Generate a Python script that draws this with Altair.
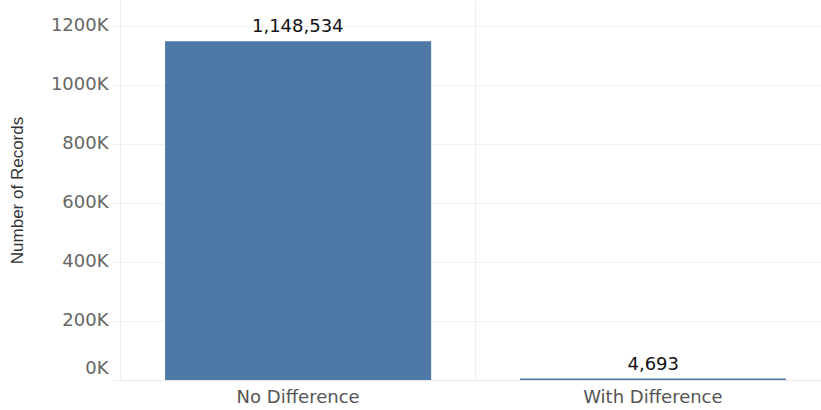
import altair as alt
import pandas as pd

categories = ["No Difference", "With Difference"]
records = [1148534, 4693]
y_ticks = [0, 200000, 400000, 600000, 800000, 1000000, 1200000]

df = pd.DataFrame({"category": categories, "records": records})

xscale = alt.Scale(domain=categories, paddingInner=0.25, paddingOuter=0.127, range=[0, 711])
sepscale = alt.Scale(domain=categories, paddingInner=0, paddingOuter=0, range=[0, 710])
yscale = alt.Scale(domain=[0, 1288000], nice=False, zero=True)

yaxis = alt.Axis(values=y_ticks, labelExpr="format(datum.value/1000, 'd') + 'K'",
                 labelFont="DejaVu Sans", labelFontSize=18, labelColor="#666666",
                 labelOffset={"condition": {"test": "datum.value === 0", "value": -12},
                              "value": 0},
                 labelPadding=3,
                 tickSize=9, tickColor="#eeeeee", domain=True, domainColor="#eeeeee",
                 gridColor="#f0f0f0", titleFont="Liberation Sans",
                 titleFontSize=17, titleFontWeight="normal", titleColor="#333333",
                 titlePadding=24)

def yenc():
    return alt.Y("records:Q", scale=yscale, title="Number of Records", axis=yaxis)

base = alt.Chart(df)

sep = base.mark_bar(opacity=0).encode(
    x=alt.X("category:N", scale=sepscale, sort=categories, title=None,
            axis=alt.Axis(orient="top", labels=False, ticks=False, domain=False,
                          grid=True, gridColor="#ececec", bandPosition=0)),
    y=yenc(),
)

bars = base.mark_bar(color="#4e79a7").encode(
    x=alt.X("category:N", scale=xscale, sort=categories, title=None,
            axis=alt.Axis(labelAngle=0, labelFont="DejaVu Sans", labelFontSize=18,
                          labelColor="#555555", labelPadding=8, domain=True,
                          domainColor="#e6e6e6", ticks=False, grid=False)),
    y=yenc(),
)

labels = base.mark_text(baseline="bottom", dy=-5, font="DejaVu Sans", fontSize=18,
                        color="#111111").encode(
    x=alt.X("category:N", scale=xscale, sort=categories, axis=None),
    y=yenc(),
    text=alt.Text("records:Q", format=","),
)

chart = alt.layer(sep, bars, labels).resolve_scale(x="independent").resolve_axis(
    x="independent").properties(
    width=701, height=380,
    autosize=alt.AutoSizeParams(type="none"),
    padding={"left": 120, "top": 0, "right": 0, "bottom": 30},
).configure_view(stroke=None)

chart.save("out.html", embed_options={"renderer": "svg", "actions": False})
